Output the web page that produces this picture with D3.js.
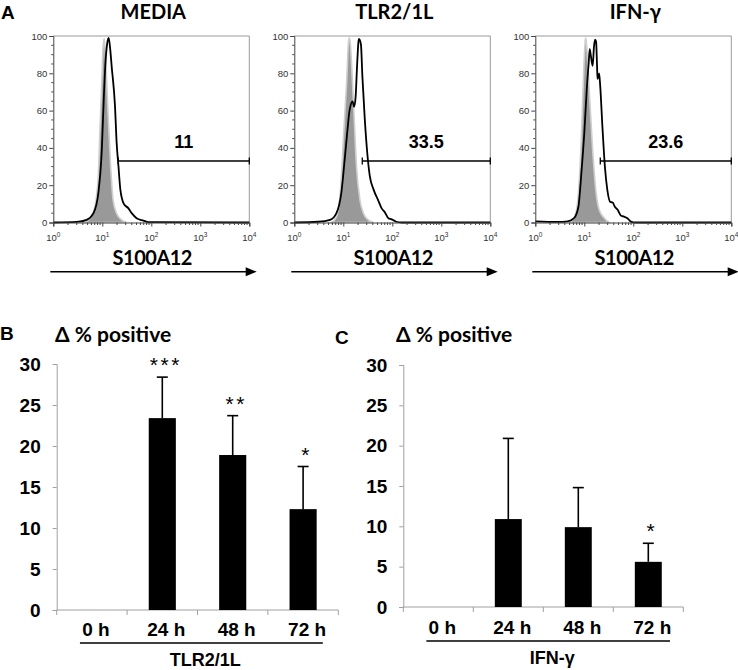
<!DOCTYPE html>
<html><head><meta charset="utf-8">
<script src="https://cdn.jsdelivr.net/npm/d3@7"></script>
<style>body{margin:0;background:#fff}</style>
</head><body><svg id="c" width="738" height="670" xmlns="http://www.w3.org/2000/svg"></svg>
<script>
// ---------- Data ----------
const histTitles = ["MEDIA", "TLR2/1L", "IFN-γ"];
const gatePercents = ["11", "33.5", "23.6"];
const gateStarts = [21.2, 24.4, 21.2];
const gateLevels = [33, 33, 33];
const histYTicks = [0, 20, 40, 60, 80, 100];
const histXTicks = [1, 10, 100, 1000, 10000];
const histXTickExp = ["0", "1", "2", "3", "4"];

// [fluorescence intensity, % of max]
const mediaIsotype = [[4.07,0],[5.62,2],[7.08,8.6],[8.32,26],[8.91,48],[9.77,75],[10.5,96],[11.0,98.5],[11.7,87],[13.2,57],[14.8,30],[16.6,12],[19.5,5],[24.5,1.5],[31.6,0]];
const mediaStain = [[1,0],[3.02,0.3],[4.79,1.4],[6.61,5],[8.32,16],[9.77,39],[10.7,66],[11.7,87],[12.6,96],[13.5,99],[14.5,93],[15.5,84],[18.2,62],[19.5,44],[21.4,30],[23.4,17.5],[27.5,10],[33.9,7.7],[39.8,5],[50.1,2.3],[69.2,1],[87.1,0.2],[10000,0]];
const tlrIsotype = [[5.75,0],[7.24,3],[8.71,16],[10.2,48],[11.7,75],[12.9,98],[13.5,99],[14.8,84],[16.6,57],[18.6,30],[21.9,12],[25.7,5],[32.4,1.4],[40.7,0]];
const tlrStain = [[1,0],[3.09,0.4],[5.37,1.4],[7.24,5],[9.12,16],[10.7,34],[12.0,48],[13.5,60.5],[15.5,65],[16.6,62],[17.8,67],[19.1,84],[20.4,97],[20.9,98.5],[22.9,95.5],[24.5,78.5],[27.5,55],[30.9,37],[34.7,25],[41.7,17.5],[51.3,12],[60.3,7.7],[70.8,5.4],[83.2,2.3],[95.5,1.8],[120,0.4],[155,0],[10000,0]];
const ifnIsotype = [[4.9,0],[6.17,2.3],[7.24,10],[8.51,39],[9.55,75],[10.5,98],[10.7,99],[11.7,87],[12.9,66],[14.8,39],[17.4,16],[20.0,7],[25.7,2.3],[32.4,0]];
const ifnStain = [[1,0.6],[2.88,0.3],[4.57,0.6],[6.17,2.3],[7.59,8.6],[8.71,26.5],[10.0,48],[11.2,71],[12.3,85.7],[12.9,93],[13.5,90],[14.8,84],[15.8,94.6],[16.6,98],[17.4,97],[18.2,84],[18.6,77],[20.0,80],[20.9,75],[23.4,51.6],[26.3,30],[29.5,17.5],[33.9,11],[38.0,10.7],[41.7,8.6],[47.9,6.8],[56.2,3.6],[64.6,3.2],[75.9,2.3],[89.1,0.5],[112,0],[10000,0]];
const isotypes = [mediaIsotype, tlrIsotype, ifnIsotype];
const stains = [mediaStain, tlrStain, ifnStain];

const timepoints = ["0 h", "24 h", "48 h", "72 h"];
const barYTicks = [0, 5, 10, 15, 20, 25, 30];
const tlrMeans = [0, 23.4, 18.9, 12.3];
const tlrErrors = [0, 5.0, 4.8, 5.2];
const tlrStars = ["", "***", "**", "*"];
const ifnMeans = [0, 10.9, 9.9, 5.6];
const ifnErrors = [0, 10.0, 4.9, 2.3];
const ifnStars = ["", "", "", "*"];

// ---------- Drawing ----------
const svg = d3.select("#c");
const ARIAL = "'Liberation Sans', Arial, sans-serif";
const CAL = "Lato, 'Open Sans', sans-serif";

svg.append("text").attr("x", 1).attr("y", 19).text("A")
  .style("font", `bold 19px ${ARIAL}`);

const panelW = 196;
histTitles.forEach((title, i) => {
  const left = 53.3 + i * 241;
  const g = svg.append("g").attr("transform", `translate(${left},0)`);
  const x = d3.scaleLog().domain([1, 1e4]).range([0, panelW]);
  const y = d3.scaleLinear().domain([0, 100]).range([222.5, 36]);

  g.append("path").attr("d", `M0,${y(100)}H${panelW}V${y(0)}`)
    .attr("fill", "none").attr("stroke", "#9a9a9a").attr("stroke-width", 1);

  const area = d3.area().x(d => x(d[0])).y0(y(0)).y1(d => y(d[1])).curve(d3.curveMonotoneX);
  g.append("path").datum(isotypes[i]).attr("d", area)
    .attr("fill", "#999").attr("stroke", "#cfcfcf").attr("stroke-width", 1.6);

  const line = d3.line().x(d => x(d[0])).y(d => y(d[1])).curve(d3.curveMonotoneX);
  g.append("path").datum(stains[i]).attr("d", line)
    .attr("fill", "none").attr("stroke", "#000").attr("stroke-width", 1.8);

  const ya = g.append("g").call(d3.axisLeft(y).tickValues(histYTicks).tickSize(4).tickPadding(2));
  ya.select(".domain").attr("stroke", "#444");
  ya.selectAll(".tick line").attr("stroke", "#444");
  ya.selectAll(".tick text").style("font", `9.5px ${ARIAL}`).attr("fill", "#333");
  const yMinor = d3.range(5, 100, 5).filter(v => v % 20 !== 0);
  g.selectAll(".ymin").data(yMinor).join("line")
    .attr("x1", -2).attr("x2", 0).attr("y1", d => y(d)).attr("y2", d => y(d))
    .attr("stroke", "#444");

  const xa = g.append("g").attr("transform", `translate(0,${y(0)})`)
    .call(d3.axisBottom(x).tickValues(histXTicks).tickSize(4).tickFormat(""));
  xa.select(".domain").attr("stroke", "#444");
  xa.selectAll(".tick line").attr("stroke", "#444");
  const xMinor = [];
  [1, 10, 100, 1000].forEach(dec => { for (let k = 2; k <= 9; k++) xMinor.push(dec * k); });
  g.selectAll(".xmin").data(xMinor).join("line")
    .attr("x1", d => x(d)).attr("x2", d => x(d)).attr("y1", y(0)).attr("y2", y(0) + 2.5)
    .attr("stroke", "#444");
  histXTicks.forEach((v, k) => {
    const t = g.append("text").attr("x", x(v)).attr("y", 241)
      .attr("text-anchor", "middle").style("font", `9.5px ${ARIAL}`).attr("fill", "#333");
    t.append("tspan").text("10");
    t.append("tspan").attr("dy", -4).style("font-size", "6.5px").text(histXTickExp[k]);
  });

  const gx0 = x(gateStarts[i]), gx1 = x(1e4), gy = y(gateLevels[i]);
  g.append("line").attr("x1", gx0).attr("x2", gx1).attr("y1", gy).attr("y2", gy)
    .attr("stroke", "#000").attr("stroke-width", 1.6);
  [gx0, gx1].forEach(px => g.append("line").attr("x1", px).attr("x2", px)
    .attr("y1", gy - 3.5).attr("y2", gy + 3.5).attr("stroke", "#000").attr("stroke-width", 1.3));
  g.append("text").attr("x", (gx0 + gx1) / 2).attr("y", gy - 13)
    .attr("text-anchor", "middle").style("font", `bold 18px ${ARIAL}`).text(gatePercents[i]);

  g.append("text").attr("x", panelW / 2 + 2).attr("y", 19).attr("text-anchor", "middle")
    .style("font", `bold 20px ${CAL}`).text(title);

  g.append("text").attr("x", panelW / 2 + 1).attr("y", 265).attr("text-anchor", "middle")
    .style("font", `bold 20px ${CAL}`).style("letter-spacing", "-0.5px").text("S100A12");
  const ay = 271.7, ax0 = -3, ax1 = 203.4;
  g.append("line").attr("x1", ax0).attr("x2", ax1 - 9).attr("y1", ay).attr("y2", ay)
    .attr("stroke", "#000").attr("stroke-width", 1.6);
  g.append("path").attr("d", `M${ax1},${ay}L${ax1 - 11},${ay - 4.5}L${ax1 - 11},${ay + 4.5}Z`).attr("fill", "#000");
});

// ---------- Bar charts ----------
function barChart(o) {
  const g = svg.append("g");
  const x = d3.scaleBand().domain(timepoints).range([o.x0, o.x1]).padding(0);
  const y = d3.scaleLinear().domain([0, 30]).range([o.yZero, o.yTop]);
  const bw = x.bandwidth() * 0.385;

  g.append("text").attr("x", o.letterX).attr("y", o.letterY).text(o.letter)
    .style("font", `bold 19px ${ARIAL}`);
  g.append("text").attr("x", o.titleX).attr("y", 342).text("Δ % positive")
    .style("font", `bold 21px ${CAL}`);

  const ya = g.append("g").attr("transform", `translate(${o.x0},0)`)
    .call(d3.axisLeft(y).tickValues(barYTicks).tickSize(4).tickPadding(12));
  ya.select(".domain").attr("stroke", "#a0a0a0");
  ya.selectAll(".tick line").attr("stroke", "#a0a0a0");
  ya.selectAll(".tick text").style("font", `bold 19px ${ARIAL}`).attr("fill", "#000");

  g.append("line").attr("x1", o.x0).attr("x2", o.x1).attr("y1", y(0)).attr("y2", y(0))
    .attr("stroke", "#a0a0a0");
  const edges = timepoints.map(t => x(t)).concat([o.x1]);
  g.selectAll(".xt").data(edges).join("line")
    .attr("x1", d => d).attr("x2", d => d).attr("y1", y(0)).attr("y2", y(0) + 5)
    .attr("stroke", "#a0a0a0");

  g.selectAll(".bar").data(timepoints).join("rect")
    .attr("x", t => x(t) + (x.bandwidth() - bw) / 2)
    .attr("width", bw)
    .attr("y", (t, i) => y(o.means[i]))
    .attr("height", (t, i) => y(0) - y(o.means[i]))
    .attr("fill", "#000");

  timepoints.forEach((t, i) => {
    if (!o.errors[i]) return;
    const cx = x(t) + x.bandwidth() / 2;
    const top = y(o.means[i] + o.errors[i]);
    g.append("line").attr("x1", cx).attr("x2", cx).attr("y1", y(o.means[i])).attr("y2", top)
      .attr("stroke", "#000").attr("stroke-width", 1.6);
    g.append("line").attr("x1", cx - 5.5).attr("x2", cx + 5.5).attr("y1", top).attr("y2", top)
      .attr("stroke", "#000").attr("stroke-width", 1.6);
    if (o.stars[i]) {
      g.append("text").attr("x", cx + 3.5).attr("y", top - 5).attr("text-anchor", "middle")
        .style("font", `21px ${ARIAL}`).style("letter-spacing", "2.5px").text(o.stars[i]);
    }
  });

  g.selectAll(".xl").data(timepoints).join("text")
    .attr("x", t => x(t) + x.bandwidth() / 2 + 4).attr("y", o.labelY)
    .attr("text-anchor", "middle").style("font", `bold 19px ${ARIAL}`).text(t => t);

  const u0 = x(timepoints[0]) + x.bandwidth() * 0.33;
  const u1 = o.x1 - x.bandwidth() * o.uEnd;
  g.append("line").attr("x1", u0).attr("x2", u1).attr("y1", o.labelY + 7).attr("y2", o.labelY + 7)
    .attr("stroke", "#000").attr("stroke-width", 1.6);
  g.append("text").attr("x", (u0 + u1) / 2 + 4).attr("y", o.groupY).attr("text-anchor", "middle")
    .style("font", `bold 18px ${ARIAL}`).text(o.group);
}

barChart({ x0: 56.7, x1: 338.3, yZero: 610, yTop: 364, means: tlrMeans, errors: tlrErrors, stars: tlrStars,
  letter: "B", letterX: 0, letterY: 340, titleX: 55, labelY: 636, uEnd: 0.22, groupY: 666, group: "TLR2/1L" });
barChart({ x0: 403.3, x1: 683.3, yZero: 607, yTop: 365, means: ifnMeans, errors: ifnErrors, stars: ifnStars,
  letter: "C", letterX: 335, letterY: 344, titleX: 396, labelY: 634, uEnd: 0.19, groupY: 664, group: "IFN-γ" });
</script></body></html>
